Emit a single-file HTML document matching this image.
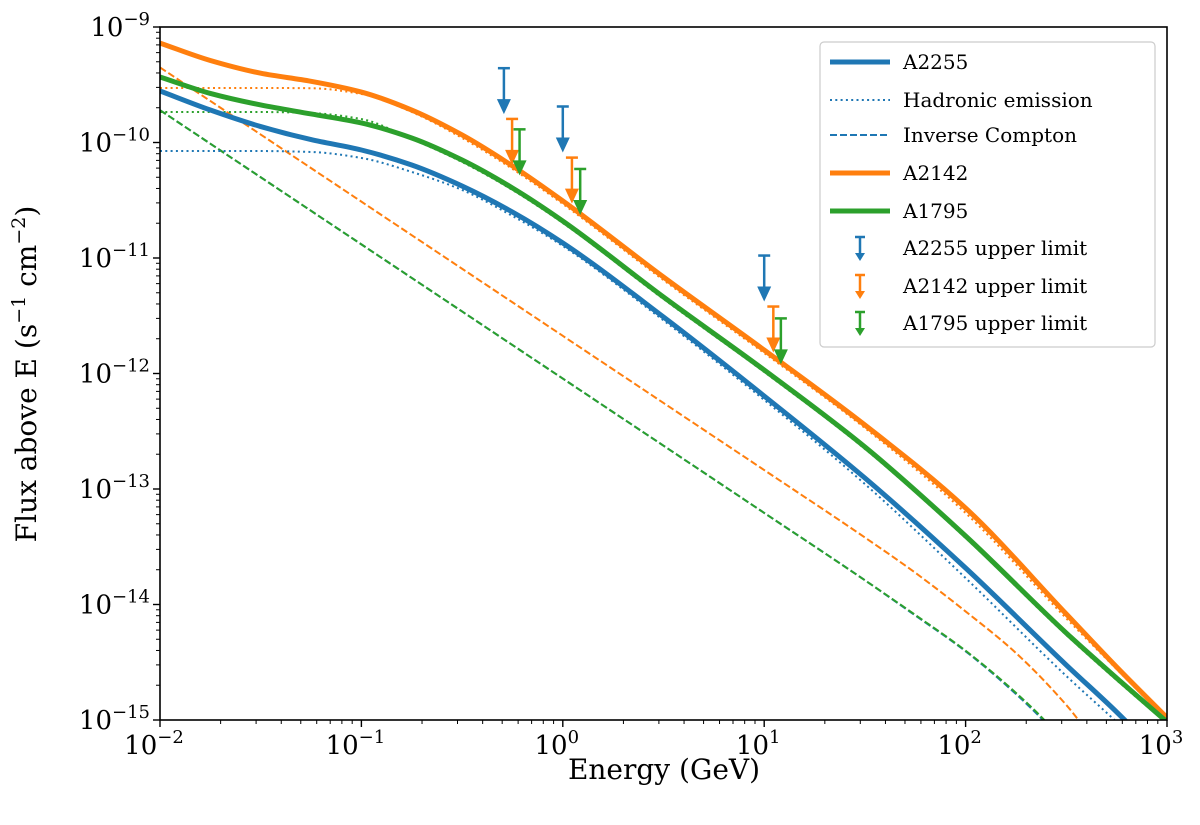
<!DOCTYPE html>
<html><head><meta charset="utf-8"><style>
body{margin:0;background:#fff}
svg text{font-family:"DejaVu Serif","Liberation Serif",serif;fill:#000}
</style></head><body>
<svg id="chart" width="1200" height="820" xmlns="http://www.w3.org/2000/svg">
<defs><clipPath id="clip"><rect x="160" y="27" width="1007" height="693"/></clipPath></defs>
<g id="plot" clip-path="url(#clip)"></g>
<g id="ul"></g>
<rect x="160" y="27" width="1007" height="693" fill="none" stroke="#000" stroke-width="1.6"/>
<g id="axes"></g>
<text x="664" y="779" font-size="28" text-anchor="middle">Energy (GeV)</text>
<text transform="translate(36,374) rotate(-90)" font-size="28" text-anchor="middle">Flux above E (s<tspan dy="-11" font-size="19">−1</tspan><tspan dy="11"> cm</tspan><tspan dy="-11" font-size="19">−2</tspan><tspan dy="11">)</tspan></text>
<g id="legend"></g>
</svg>
<script>
const NS="http://www.w3.org/2000/svg";
const E1=[-2,-1.75,-1.5,-1.25,-1,-0.75,-0.5,-0.25,0,0.5,1,1.5,2,2.5,2.75,3];
const a2142Total=[-9.139,-9.290,-9.400,-9.470,-9.563,-9.719,-9.935,-10.203,-10.506,-11.165,-11.797,-12.446,-13.165,-14.082,-14.541,-14.98];
const a1795Total=[-9.433,-9.575,-9.675,-9.753,-9.831,-9.961,-10.152,-10.394,-10.680,-11.338,-11.970,-12.636,-13.407,-14.247,-14.637,-15.017];
const a2255Total=[-9.554,-9.719,-9.862,-9.975,-10.065,-10.195,-10.377,-10.602,-10.870,-11.511,-12.195,-12.905,-13.684,-14.524,-14.931,-15.372];
const a2142Had=[-9.528,-9.528,-9.528,-9.530,-9.580,-9.736,-9.961,-10.229,-10.532,-11.191,-11.823,-12.472,-13.208,-14.12,-14.56,-15.0];
const a1795Had=[-9.736,-9.736,-9.736,-9.745,-9.797,-9.970,-10.169,-10.411,-10.697,-11.355,-11.987,-12.653,-13.424,-14.264,-14.655,-15.03];
const a2255Had=[-10.074,-10.074,-10.074,-10.082,-10.134,-10.255,-10.411,-10.636,-10.896,-11.54,-12.229,-12.957,-13.771,-14.619,-15.017,-15.43];
const E2o=[-2,-1.5,-1,-0.5,0,0.5,1,1.5,1.75,2,2.25,2.5,2.6];
const a2142IC=[-9.35,-9.931,-10.512,-11.093,-11.674,-12.255,-12.836,-13.42,-13.725,-14.06,-14.42,-14.870,-15.087];
const E2g=[-2,-1.5,-1,-0.5,0,0.5,1,1.5,1.75,2,2.25,2.4,2.5];
const a1795IC=[-9.72,-10.301,-10.882,-11.463,-12.044,-12.625,-13.207,-13.79,-14.09,-14.40,-14.765,-15.017,-15.22];
const a2255IC=[-9.72,-10.301,-10.882,-11.463,-12.044,-12.625,-13.207,-13.79,-14.095,-14.405,-14.775,-15.03,-15.23];
const ulEnergy2255=[0.51,1.0,10.0], ulFlux2255=[4.4e-10,2.05e-10,1.05e-11];
const ulEnergy2142=[0.56,1.11,11.1], ulFlux2142=[1.6e-10,7.4e-11,3.8e-12];
const ulEnergy1795=[0.61,1.22,12.1], ulFlux1795=[1.3e-10,5.9e-11,3.0e-12];
const xTicks=[-2,-1,0,1,2,3], yTicks=[-9,-10,-11,-12,-13,-14,-15];
const C={b:"#1f77b4",o:"#ff7f0e",g:"#2ca02c"};
const X=l=>160+(l+2)*201.4, Y=l=>27+(-9-l)*115.5;
function el(t,a,p){const e=document.createElementNS(NS,t);for(const k in a)e.setAttribute(k,a[k]);p.appendChild(e);return e;}
function path(xs,ys){const P=xs.map((x,i)=>[X(x),Y(ys[i])]);const n=P.length;const d=[],m=new Array(n);
for(let i=0;i<n-1;i++)d.push((P[i+1][1]-P[i][1])/(P[i+1][0]-P[i][0]));
m[0]=d[0];m[n-1]=d[n-2];
for(let i=1;i<n-1;i++){if(d[i-1]*d[i]<=0)m[i]=0;else{const h0=P[i][0]-P[i-1][0],h1=P[i+1][0]-P[i][0];const w1=2*h1+h0,w2=h1+2*h0;m[i]=(w1+w2)/(w1/d[i-1]+w2/d[i]);}}
let s="M"+P[0][0]+","+P[0][1];
for(let i=0;i<n-1;i++){const h=P[i+1][0]-P[i][0];s+=" C"+(P[i][0]+h/3)+","+(P[i][1]+m[i]*h/3)+" "+(P[i+1][0]-h/3)+","+(P[i+1][1]-m[i+1]*h/3)+" "+P[i+1][0]+","+P[i+1][1];}
return s;}
const plot=document.getElementById("plot");
function line(xs,ys,col,w,dash,name){const e=el("path",{d:path(xs,ys),fill:"none",stroke:col,"stroke-width":w},plot);if(dash)e.setAttribute("stroke-dasharray",dash);

}
line(E2g,a2255IC,C.b,2,"7,3","a2255-ic");
line(E2o,a2142IC,C.o,2,"7,3","a2142-ic");
line(E2g,a1795IC,C.g,2,"7,3","a1795-ic");
line(E1,a2255Had,C.b,2,"2,3.3","a2255-hadronic");
line(E1,a2142Had,C.o,2,"2,3.3","a2142-hadronic");
line(E1,a1795Had,C.g,2,"2,3.3","a1795-hadronic");
line(E1,a2255Total,C.b,5,null,"a2255-total");
line(E1,a2142Total,C.o,5,null,"a2142-total");
line(E1,a1795Total,C.g,5,null,"a1795-total");
const ul=document.getElementById("ul");
function uls(es,fs,col,name){es.forEach((e,i)=>{const x=X(Math.log10(e)),y=Y(Math.log10(fs[i]));const g=el("g",{},ul);


el("line",{x1:x-6,x2:x+6,y1:y,y2:y,stroke:col,"stroke-width":2.5},g);
el("line",{x1:x,x2:x,y1:y,y2:y+34,stroke:col,"stroke-width":2.5},g);
el("polygon",{points:(x-7)+","+(y+31)+" "+(x+7)+","+(y+31)+" "+x+","+(y+46),fill:col},g);});}
uls(ulEnergy2255,ulFlux2255,C.b,"a2255-upper-limit");
uls(ulEnergy2142,ulFlux2142,C.o,"a2142-upper-limit");
uls(ulEnergy1795,ulFlux1795,C.g,"a1795-upper-limit");
const ax=document.getElementById("axes");
xTicks.forEach(t=>{const x=X(t);el("line",{x1:x,x2:x,y1:720,y2:727,stroke:"#000","stroke-width":1.4},ax);
const tx=el("text",{x:x-6,y:754,"font-size":26,"text-anchor":"middle"},ax);tx.innerHTML='10<tspan dy="-11" font-size="18">'+(t<0?"−"+(-t):t)+'</tspan>';


if(t<3)for(let m=2;m<10;m++){const xm=X(t+Math.log10(m));el("line",{x1:xm,x2:xm,y1:720,y2:724,stroke:"#000","stroke-width":1},ax);}});
yTicks.forEach(t=>{const y=Y(t);el("line",{x1:153,x2:160,y1:y,y2:y,stroke:"#000","stroke-width":1.4},ax);
const tx=el("text",{x:150,y:y+9,"font-size":26,"text-anchor":"end"},ax);tx.innerHTML='10<tspan dy="-11" font-size="18">−'+(-t)+'</tspan>';


if(t>-15)for(let m=2;m<10;m++){const ym=Y(t-1+Math.log10(m));el("line",{x1:156,x2:160,y1:ym,y2:ym,stroke:"#000","stroke-width":1},ax);}});
const lg=document.getElementById("legend");
el("rect",{x:820,y:42,width:335,height:305,rx:4,fill:"#fff",stroke:"#ccc","stroke-width":1.2},lg);
const items=[["A2255",C.b,"line5"],["Hadronic emission",C.b,"dot"],["Inverse Compton",C.b,"dash"],["A2142",C.o,"line5"],["A1795",C.g,"line5"],["A2255 upper limit",C.b,"ul"],["A2142 upper limit",C.o,"ul"],["A1795 upper limit",C.g,"ul"]];
const ys=[62,100,135,173,211,248,286,323];
items.forEach((it,i)=>{const y=ys[i];const g=el("g",{},lg);


if(it[2]=="line5")el("line",{x1:830,x2:890,y1:y,y2:y,stroke:it[1],"stroke-width":5},g);
else if(it[2]=="dot")el("line",{x1:830,x2:890,y1:y,y2:y,stroke:it[1],"stroke-width":2,"stroke-dasharray":"2,3.3"},g);
else if(it[2]=="dash")el("line",{x1:830,x2:890,y1:y,y2:y,stroke:it[1],"stroke-width":2,"stroke-dasharray":"7,3"},g);
else{el("line",{x1:860,x2:860,y1:y-11,y2:y+11,stroke:it[1],"stroke-width":2.5},g);el("line",{x1:855,x2:865,y1:y-11,y2:y-11,stroke:it[1],"stroke-width":2.5},g);el("polygon",{points:"855,"+(y+5)+" 865,"+(y+5)+" 860,"+(y+13),fill:it[1]},g);}
const t=el("text",{x:903,y:y+7,"font-size":20},g);t.textContent=it[0];});
</script>
</body></html>
